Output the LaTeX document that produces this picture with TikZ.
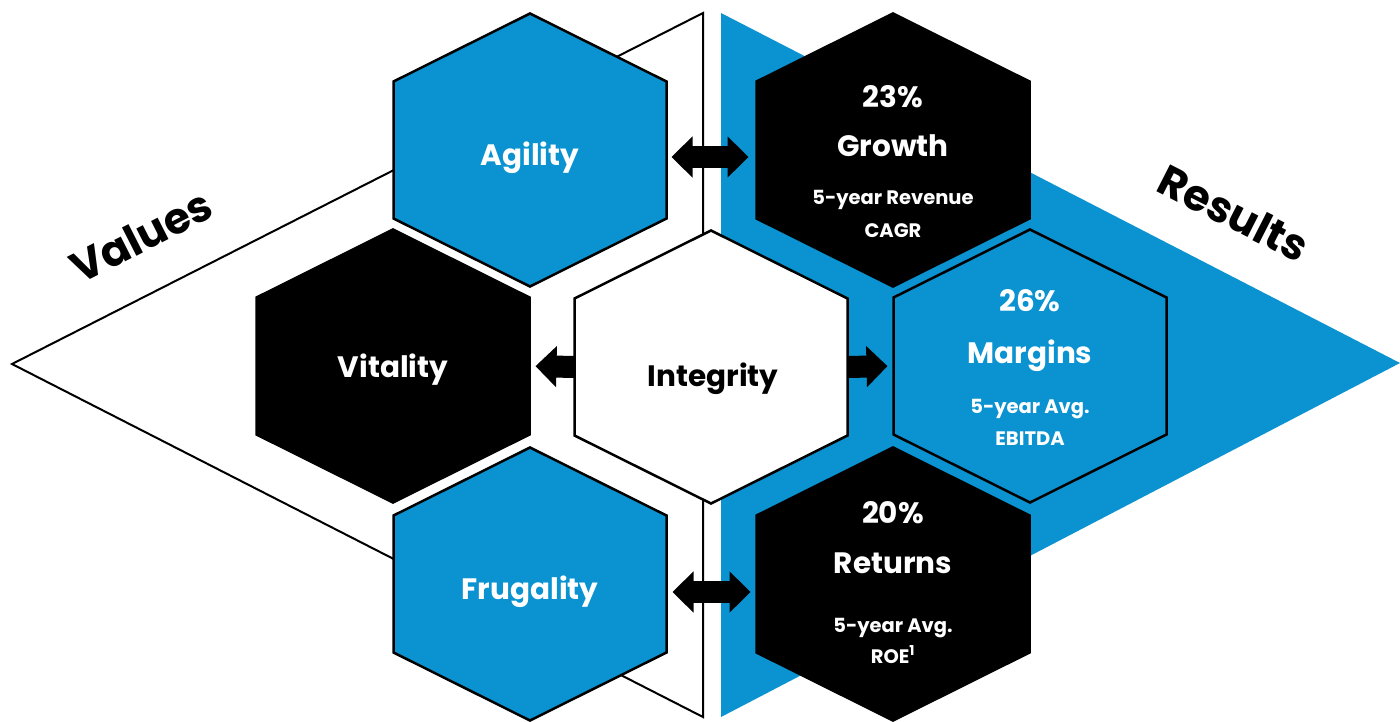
\documentclass[tikz,border=0pt]{standalone}
\usepackage{fontspec}
\setmainfont{Poppins}
\usetikzlibrary{arrows.meta}
\definecolor{vblue}{RGB}{10,147,208}

\begin{document}
\begin{tikzpicture}[x=1pt, y=-1pt,
        cell/.style={rectangle, minimum width=273pt, minimum height=137pt, inner sep=0pt, outer sep=0pt},
        hexline/.style={draw=black, line width=2.5pt, line join=miter},
        big/.style={anchor=base, text=white, font=\fontsize{29.5}{29.5}\selectfont\bfseries},
        small/.style={anchor=base, text=white, font=\fontsize{19.5}{19.5}\selectfont\bfseries},
        side/.style={font=\fontsize{43}{43}\selectfont\bfseries},
        arr/.style={line width=22pt, -{Triangle[length=21pt, width=40pt]}},
        dblarr/.style={line width=22pt, {Triangle[length=21pt, width=40pt]}-{Triangle[length=21pt, width=40pt]}}]
        \useasboundingbox (0,0) rectangle (1400,721);

        %triangles
        \draw[line width=2pt, fill=white] (12,364) -- (703,13) -- (703,717) -- cycle;
        \fill[vblue] (721,13) -- (1400,363) -- (721,717) -- cycle;

        %hexagons
        \foreach \n/\x/\y/\c in {agility/530/150/vblue, growth/893/150/black, vitality/393/366/black, integrity/711/367/white, margins/1030/366/vblue, frugality/530/584/vblue, returns/893/584/black}
        {
            \node[cell] (\n) at (\x,\y) {};
            \draw[hexline, fill=\c] (\n.north west) -- ([yshift=68pt]\n.north) -- (\n.north east) -- (\n.south east) -- ([yshift=-68pt]\n.south) -- (\n.south west) -- cycle;
        }

        %edges
        \draw[dblarr, shorten <=5pt, shorten >=8pt] ([yshift=-7pt]agility.east) -- ([yshift=-7pt]growth.west);
        \draw[arr, shorten >=6pt] (integrity.west) -- (vitality.east);
        \draw[arr, shorten >=6pt] (integrity.east) -- (margins.west);
        \draw[dblarr, shorten <=6pt, shorten >=6pt] ([yshift=-8pt]frugality.east) -- ([yshift=-8pt]returns.west);

        %labels
        \node[side, rotate=27] (values) at (141,236) {Values};
        \node[side, rotate=-27] (results) at (1234,213) {Results};
        \node[big] (agility-t) at (530,165) {Agility};
        \node[big] (vitality-t) at (393,377) {Vitality};
        \node[big, text=black] (integrity-t) at (713,386) {Integrity};
        \node[big] (frugality-t) at (530,599) {Frugality};

        \node[big] (growth-pct) at (893,107) {23\%};
        \node[big] (growth-t) at (893,156) {Growth};
        \node[small] (growth-sub) at (893,204) {5-year Revenue};
        \node[small] (growth-sub2) at (893,237) {CAGR};

        \node[big] (margins-pct) at (1030,311) {26\%};
        \node[big] (margins-t) at (1030,363) {Margins};
        \node[small] (margins-sub) at (1030,413) {5-year Avg.};
        \node[small] (margins-sub2) at (1030,445) {EBITDA};

        \node[big] (returns-pct) at (893,523) {20\%};
        \node[big] (returns-t) at (893,573) {Returns};
        \node[small] (returns-sub) at (893,632) {5-year Avg.};
        \node[small] (returns-sub2) at (893,663) {ROE\textsuperscript{1}};
    \end{tikzpicture}
\end{document}
